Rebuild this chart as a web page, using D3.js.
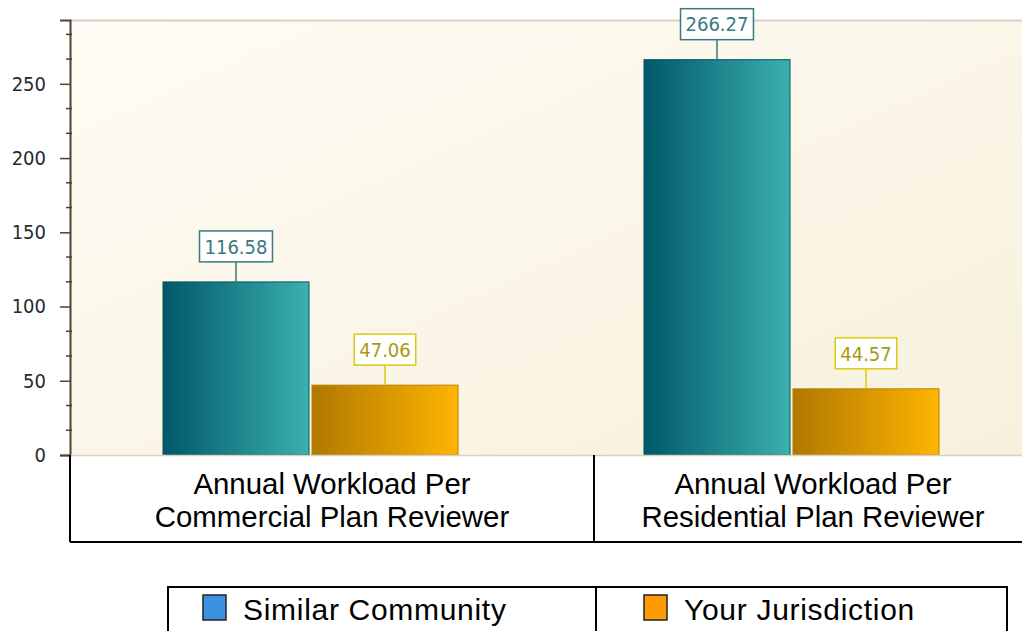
<!DOCTYPE html>
<html>
<head>
<meta charset="utf-8">
<script src="https://cdn.jsdelivr.net/npm/d3@7"></script>
<style>
  body { margin: 0; background: #fff; }
  svg { display: block; }
</style>
</head>
<body>
<div id="chart"></div>
<script>
// Chart data
const categories = ["Commercial", "Residential"];
const categoryLabels = [
    ["Annual Workload Per", "Commercial Plan Reviewer"],
    ["Annual Workload Per", "Residential Plan Reviewer"]
];
const seriesNames = ["Similar Community", "Your Jurisdiction"];
const similarValues = [116.58, 266.27];
const yourValues = [47.06, 44.57];
const yTicks = [0, 50, 100, 150, 200, 250];

const width = 1022, height = 631;
const plot = { left: 70, top: 20, right: 1032, bottom: 455 };

const svg = d3.select("#chart").append("svg")
    .attr("width", width)
    .attr("height", height);

const defs = svg.append("defs");

// Background gradient of the plot area
const bg = defs.append("linearGradient").attr("id", "bg")
    .attr("x1", "0").attr("y1", "0").attr("x2", "1").attr("y2", "1");
bg.append("stop").attr("offset", "0%").attr("stop-color", "#fefcf4");
bg.append("stop").attr("offset", "100%").attr("stop-color", "#f7f0dc");

// Bar gradients (dark left -> light right)
const barGrads = [
    { id: "g0", from: "#005868", to: "#3ab0b0" },
    { id: "g1", from: "#b07800", to: "#ffb400" }
];
barGrads.forEach(g => {
    const lg = defs.append("linearGradient").attr("id", g.id)
        .attr("x1", "0").attr("y1", "0").attr("x2", "1").attr("y2", "0");
    lg.append("stop").attr("offset", "0%").attr("stop-color", g.from);
    lg.append("stop").attr("offset", "100%").attr("stop-color", g.to);
});

const labelStyle = [
    { stroke: "#3c7880", text: "#3c7880" },
    { stroke: "#d8cc10", text: "#a89a10" }
];
const swatchColors = ["#3d90e2", "#ff9a00"];

// Scales
const y = d3.scaleLinear().domain([0, 293]).range([plot.bottom, plot.top]);
const x0 = d3.scaleBand().domain(categories).range([plot.left, plot.right]);
const x1 = d3.scaleBand().domain(seriesNames).range([0, x0.bandwidth()])
    .paddingInner(0.02).paddingOuter(0.624);

svg.append("rect")
    .attr("x", plot.left).attr("y", plot.top)
    .attr("width", plot.right - plot.left).attr("height", plot.bottom - plot.top)
    .attr("fill", "url(#bg)");

svg.append("line")
    .attr("x1", plot.left).attr("x2", width)
    .attr("y1", plot.top + 0.5).attr("y2", plot.top + 0.5)
    .attr("stroke", "#d8d2c4").attr("stroke-width", 2);

// Y axis
const yAxis = d3.axisLeft(y).tickValues(yTicks).tickSize(10).tickPadding(14);
const ya = svg.append("g")
    .attr("transform", `translate(${plot.left},0)`)
    .call(yAxis);
ya.select(".domain").attr("stroke", "#4a4430").attr("stroke-width", 2);
ya.selectAll(".tick line").attr("stroke", "#4a4430").attr("stroke-width", 1.5);
ya.selectAll(".tick text")
    .attr("fill", "#2a2a2a")
    .style("font-family", "'DejaVu Sans Condensed', 'DejaVu Sans', sans-serif")
    .style("font-size", "20px");

// minor ticks every 50/3
const minorTicks = d3.range(0, 293, 50 / 3).filter((v, i) => i % 3 !== 0);
svg.append("g").selectAll("line")
    .data(minorTicks)
    .enter().append("line")
    .attr("x1", plot.left - 4).attr("x2", plot.left + 2)
    .attr("y1", d => y(d)).attr("y2", d => y(d))
    .attr("stroke", "#4a4430").attr("stroke-width", 1.5);

// Bars
const rows = categories.map((c, i) => ({
    cat: c,
    values: [similarValues[i], yourValues[i]]
}));

const groups = svg.selectAll(".grp")
    .data(rows)
    .enter().append("g")
    .attr("class", "grp")
    .attr("transform", d => `translate(${x0(d.cat)},0)`);

const bars = groups.selectAll(".bar")
    .data(d => d.values.map((v, k) => ({ k: k, name: seriesNames[k], value: v })))
    .enter().append("g");

bars.append("rect")
    .attr("x", d => x1(d.name))
    .attr("y", d => y(d.value))
    .attr("width", x1.bandwidth())
    .attr("height", d => y(0) - y(d.value))
    .attr("fill", d => `url(#g${d.k})`)
    .attr("stroke", d => d.k === 0 ? "#0c5560" : "#b88400")
    .attr("stroke-width", 1);

// Value labels with connector
const boxH = 31, gap = 20;
bars.append("line")
    .attr("x1", d => x1(d.name) + x1.bandwidth() / 2)
    .attr("x2", d => x1(d.name) + x1.bandwidth() / 2)
    .attr("y1", d => y(d.value))
    .attr("y2", d => y(d.value) - gap)
    .attr("stroke", d => labelStyle[d.k].stroke)
    .attr("stroke-width", 1.5);

const valText = bars.append("text")
    .attr("x", d => x1(d.name) + x1.bandwidth() / 2)
    .attr("y", d => y(d.value) - gap - boxH / 2)
    .attr("dy", "0.36em")
    .attr("text-anchor", "middle")
    .attr("fill", d => labelStyle[d.k].text)
    .style("font-family", "'DejaVu Sans Condensed', 'DejaVu Sans', sans-serif")
    .style("font-size", "20px")
    .text(d => d.value.toFixed(2));

valText.each(function(d) {
    const w = this.getComputedTextLength() + 10;
    d3.select(this.parentNode).insert("rect", "text")
        .attr("x", x1(d.name) + x1.bandwidth() / 2 - w / 2)
        .attr("y", y(d.value) - gap - boxH)
        .attr("width", w)
        .attr("height", boxH)
        .attr("fill", "#fff")
        .attr("stroke", labelStyle[d.k].stroke)
        .attr("stroke-width", 1.5);
});

// Category table under the plot
const tableBottom = 542;
const cellEdges = [plot.left, 594, plot.right];
const table = svg.append("g");
table.append("line")
    .attr("x1", plot.left).attr("x2", width)
    .attr("y1", plot.bottom + 0.5).attr("y2", plot.bottom + 0.5)
    .attr("stroke", "#d8d2c4").attr("stroke-width", 1.5);
table.append("line")
    .attr("x1", plot.left).attr("x2", width)
    .attr("y1", tableBottom).attr("y2", tableBottom)
    .attr("stroke", "#000").attr("stroke-width", 2);
[0, 1].forEach(i => {
    table.append("line")
        .attr("x1", cellEdges[i]).attr("x2", cellEdges[i])
        .attr("y1", plot.bottom).attr("y2", tableBottom)
        .attr("stroke", "#000").attr("stroke-width", 2);
});
categoryLabels.forEach((lines, i) => {
    const cx = (cellEdges[i] + cellEdges[i + 1]) / 2;
    const t = table.append("text")
        .attr("text-anchor", "middle")
        .style("font-family", "'Liberation Sans', Arial, sans-serif")
        .style("font-size", "29.4px")
        .attr("fill", "#000");
    lines.forEach((ln, j) => {
        t.append("tspan")
            .attr("x", cx)
            .attr("y", 494 + j * 33)
            .text(ln);
    });
});

// Legend
const legend = svg.append("g");
const legEdges = [168, 596, 1007];
const legY = 587;
legend.append("rect")
    .attr("x", legEdges[0]).attr("y", legY)
    .attr("width", legEdges[2] - legEdges[0]).attr("height", 60)
    .attr("fill", "none").attr("stroke", "#000").attr("stroke-width", 2);
legend.append("line")
    .attr("x1", legEdges[1]).attr("x2", legEdges[1])
    .attr("y1", legY).attr("y2", height)
    .attr("stroke", "#000").attr("stroke-width", 2);
const swatchX = [203, 644];
seriesNames.forEach((s, i) => {
    legend.append("rect")
        .attr("x", swatchX[i]).attr("y", 595)
        .attr("width", 23).attr("height", 25)
        .attr("fill", swatchColors[i])
        .attr("stroke", "#222").attr("stroke-width", 1.5);
    legend.append("text")
        .attr("x", swatchX[i] + 40).attr("y", 620)
        .style("font-family", "'Liberation Sans', Arial, sans-serif")
        .style("font-size", "30px")
        .style("letter-spacing", "0.7px")
        .attr("fill", "#000")
        .text(s);
});
</script>
</body>
</html>
